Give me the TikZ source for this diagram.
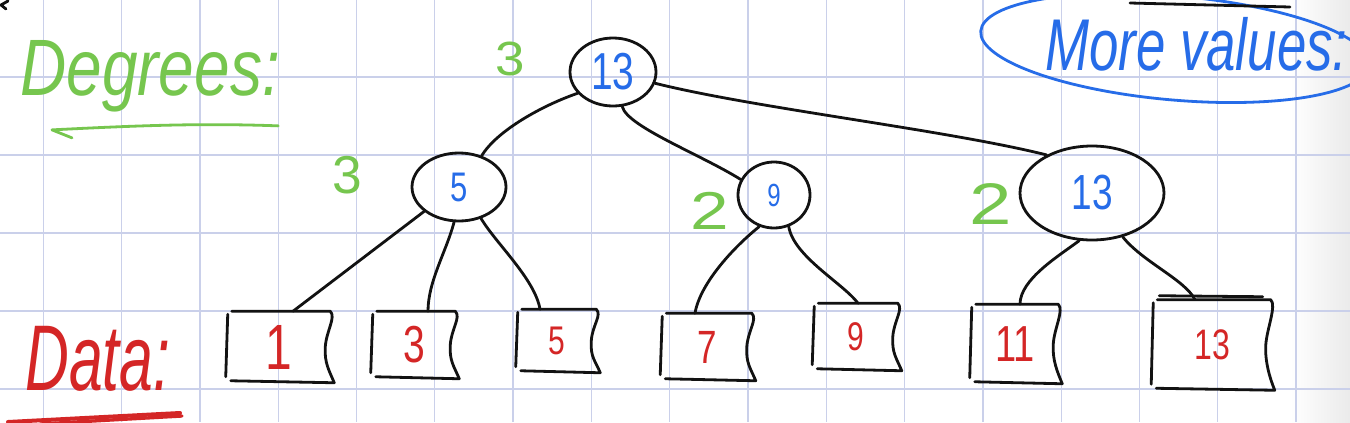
\documentclass[tikz,border=0pt]{standalone}
\usepackage{fontspec}
\setmainfont{Liberation Sans}
\usepackage{graphicx}
\usetikzlibrary{shapes.geometric,calc}
\definecolor{gridc}{RGB}{202,208,234}
\definecolor{hwgreen}{RGB}{118,198,78}
\definecolor{hwblue}{RGB}{38,108,232}
\definecolor{hwred}{RGB}{212,38,38}
\definecolor{ink}{RGB}{18,18,18}
\newcommand\dg[3][0.75]{{\fontsize{#2}{#2}\selectfont\scalebox{#1}[1]{#3}}}
\newcommand\wbox[1]{%
  \draw[pen] ($(#1.north west)+(4,0)$) -- (#1.north east)
    .. controls +(6,6) and +(1,-16) .. ($(#1.east)+(-5,0)$)
    .. controls +(-1,16) and +(-5,-12) .. ($(#1.south east)+(4,0)$)
    -- ($(#1.south west)+(3,-2)$);
  \draw[pen] ($(#1.north west)+(0,3)$) -- ($(#1.south west)+(-2,-6)$);
}
\begin{document}
\begin{tikzpicture}[x=0.75pt,y=-0.75pt,
  pen/.style={draw=ink, line width=2.1pt, line cap=round, line join=round},
  circ/.style={ellipse, pen, inner sep=0pt, text=hwblue},
  leaf/.style={rectangle, draw=none, inner sep=0pt, text=hwred},
  deg/.style={text=hwgreen, inner sep=0pt},
  gridline/.style={draw=gridc, line width=1pt},
  word/.style={inner sep=0pt, anchor=base west}]
\fill[white] (0,0) rectangle (1350,422);
\useasboundingbox (0,0) rectangle (1350,422);
\shade[left color=white, right color=black!8] (1290,0) rectangle (1350,422);
% grid
\foreach \i in {0,...,16} \draw[gridline] ({43.3+78.3*\i},0) -- ({43.3+78.3*\i},422);
\foreach \j in {0,...,4} \draw[gridline] (0,{77+78*\j}) -- (1350,{77+78*\j});

% headings
\node[word, text=hwgreen] (degw) at (20,95) {\dg[0.8]{60}{\itshape Degrees:}};
\draw[draw=hwgreen, line width=2.1pt, line cap=round, line join=round]
  ($(degw.south east)+(-2,14)$) .. controls +(-80,-3) and +(80,-4) .. ($(degw.south west)+(32,18)$) -- ($(degw.south west)+(52,26)$);
\node[word, text=hwred] (data) at (25,390) {\dg[0.65]{70}{\itshape Data:}};
\draw[draw=hwred, line width=3pt, line cap=round] (8,422) -- (180,413);
\draw[draw=hwred, line width=2.5pt, line cap=round] (40,424) -- (182,416);
\node[word, text=hwblue] (mv) at (1045,70) {\dg[0.72]{55}{\itshape More values:}};
\draw[draw=hwblue, line width=2.1pt, rotate around={-5:(1175,48)}] (1175,48) ellipse [x radius=195, y radius=52];
\draw[pen] (1130,3) -- (1290,7);
\draw[pen] (8,1) -- (1,5) -- (6,9);

% tree nodes
\node[circ, minimum width=64.5pt, minimum height=51pt] (root) at (613,72) {\dg{39}{13}};
\node[circ, minimum width=70.5pt, minimum height=51pt] (n5) at (459,187) {\dg{31}{5}};
\node[circ, minimum width=54pt, minimum height=49.5pt] (n9) at (774,195) {\dg{24}{9}};
\node[circ, minimum width=108pt, minimum height=70.5pt] (n13) at (1092,193) {\dg{37}{13}};

% degree labels
\node[deg] (d1) at (510,59) {\dg[1.1]{36}{3}};
\node[deg] (d2) at (347,175) {\dg[1]{40}{3}};
\node[deg] (d3) at (710,211) {\dg[1.3]{40}{2}};
\node[deg] (d4) at (991,204) {\dg[1.3]{44}{2}};

% leaves
\node[leaf, minimum width=76.5pt, minimum height=53.25pt] (l1) at (279,347) {\dg{48}{1}};
\node[leaf, minimum width=61.5pt, minimum height=50.25pt] (l3) at (414,345) {\dg{39}{3}};
\node[leaf, minimum width=58.5pt, minimum height=47.25pt] (l5) at (557,341) {\dg{30}{5}};
\node[leaf, minimum width=66.75pt, minimum height=50.25pt] (l7) at (707,347) {\dg{35}{7}};
\node[leaf, minimum width=62.25pt, minimum height=50.25pt] (l9) at (856,337) {\dg{30}{9}};
\node[leaf, minimum width=64.5pt, minimum height=59.25pt] (l11) at (1015,344) {\dg{38}{11}};
\node[leaf, minimum width=87.75pt, minimum height=67.5pt] (l13) at (1212,345) {\dg{32}{13}};
\foreach \n in {l1,l3,l5,l7,l9,l11,l13} {\wbox{\n}}
\draw[pen] ($(l13.north west)+(6,-4)$) -- ($(l13.north east)+(-8,-3)$);

% connectors
\draw[pen] (root.211) .. controls +(-35,12) and +(15,-25) .. (n5.54);
\draw[pen] (root.-75) .. controls +(5,20) and +(-40,-25) .. (n9.155);
\draw[pen] (root.-15) .. controls +(100,25) and +(-100,-25) .. (n13.140);
\draw[pen] (n5.215) -- ($(l1.north)+(14,0)$);
\draw[pen] (n5.262) .. controls +(-8,30) and +(0,-30) .. ($(l3.north)+(14,0)$);
\draw[pen] (n5.-55) .. controls +(15,25) and +(-5,-30) .. ($(l5.north)+(-17,0)$);
\draw[pen] (n9.245) .. controls +(-25,20) and +(5,-30) .. ($(l7.north)+(-12,0)$);
\draw[pen] (n9.-65) .. controls +(5,30) and +(-15,-20) .. ($(l9.north)+(2,0)$);
\draw[pen] (n13.255) .. controls +(-20,15) and +(0,-25) .. ($(l11.north)+(5,0)$);
\draw[pen] (n13.-55) .. controls +(20,25) and +(-10,-20) .. ($(l13.north)+(-17,0)$);
\end{tikzpicture}
\end{document}
